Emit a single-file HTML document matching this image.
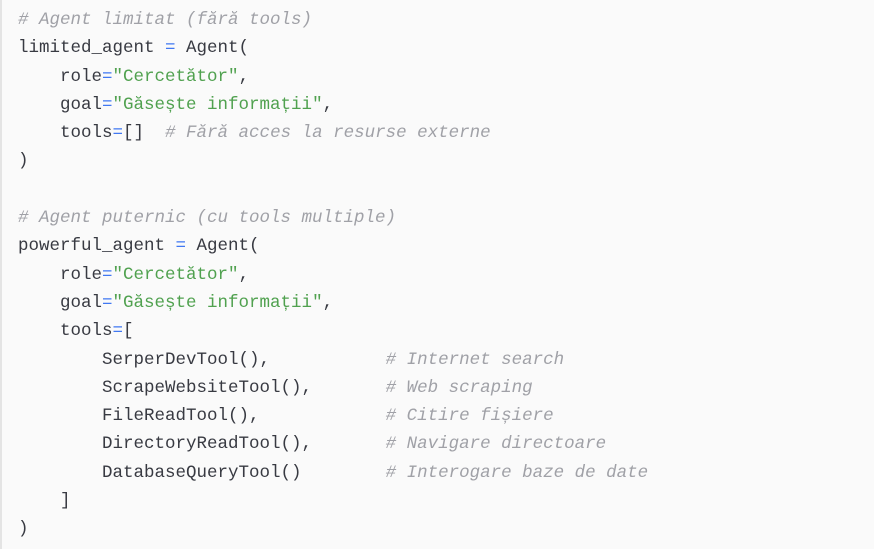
<!DOCTYPE html>
<html><head><meta charset="utf-8"><style>
html,body{margin:0;padding:0;background:#fafafa;width:874px;height:549px;overflow:hidden}
.b{position:absolute;left:0;top:0;width:874px;height:549px;border-left:2px solid #e4e4e4;box-sizing:border-box;background:#fafafa}
pre{margin:0;position:absolute;left:18px;top:6px;font-family:"Liberation Mono",monospace;font-size:17.5px;line-height:28.3px;color:#383a42}
.c{color:#a0a1a7;font-style:italic}
.s{color:#50a14f}
.o{color:#4078f2}
</style></head><body><div class="b"></div>
<pre><span class="c"># Agent limitat (fără tools)</span>
limited_agent <span class="o">=</span> Agent(
    role<span class="o">=</span><span class="s">"Cercetător"</span>,
    goal<span class="o">=</span><span class="s">"Găsește informații"</span>,
    tools<span class="o">=</span>[]  <span class="c"># Fără acces la resurse externe</span>
)

<span class="c"># Agent puternic (cu tools multiple)</span>
powerful_agent <span class="o">=</span> Agent(
    role<span class="o">=</span><span class="s">"Cercetător"</span>,
    goal<span class="o">=</span><span class="s">"Găsește informații"</span>,
    tools<span class="o">=</span>[
        SerperDevTool(),           <span class="c"># Internet search</span>
        ScrapeWebsiteTool(),       <span class="c"># Web scraping</span>
        FileReadTool(),            <span class="c"># Citire fișiere</span>
        DirectoryReadTool(),       <span class="c"># Navigare directoare</span>
        DatabaseQueryTool()        <span class="c"># Interogare baze de date</span>
    ]
)</pre>
</body></html>
